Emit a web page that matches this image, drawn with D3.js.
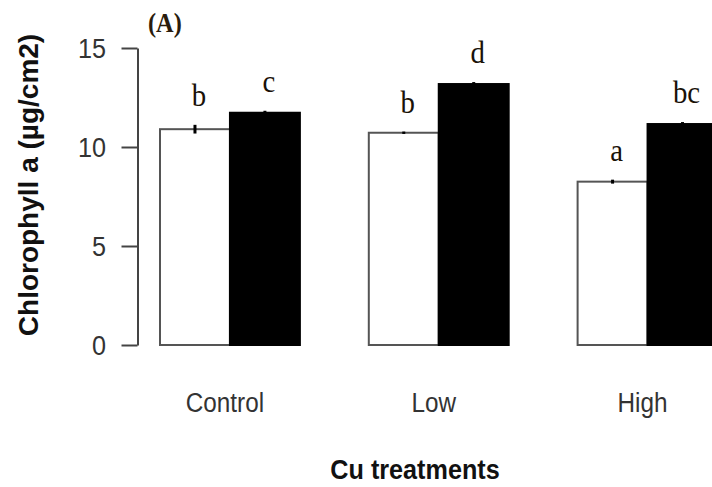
<!DOCTYPE html>
<html>
<head>
<meta charset="utf-8">
<script src="https://cdn.jsdelivr.net/npm/d3@7"></script>
<style>
  body { margin: 0; background: #fff; }
  svg { display: block; }
</style>
</head>
<body>
<svg id="chart" width="712" height="487"></svg>
<script>
// chlorophyll a per treatment, two series (white / black bars)
var categories = ["Control", "Low", "High"];
var seriesKeys = ["white", "black"];
var whiteValues = [10.9, 10.72, 8.25];
var blackValues = [11.73, 13.18, 11.16];
var whiteErrors = [0.22, 0.06, 0.1];
var blackErrors = [0.1, 0.1, 0.1];
var whiteLetters = ["b", "b", "a"];
var blackLetters = ["c", "d", "bc"];
var yTicks = [0, 5, 10, 15];

var svg = d3.select("#chart");
var squeeze = 0.9; // text in the picture looks slightly narrow

var y = d3.scaleLinear().domain([0, 15]).range([345, 48]);

var x0 = d3.scaleBand()
    .domain(categories)
    .range([160, 717.5])
    .paddingInner(0.33)
    .paddingOuter(0);

var x1 = d3.scaleBand()
    .domain(seriesKeys)
    .range([0, x0.bandwidth()])
    .padding(0);

var rows = categories.map(function (c, i) {
    return {
        cat: c,
        bars: [
            {key: "white", value: whiteValues[i], err: whiteErrors[i], letter: whiteLetters[i]},
            {key: "black", value: blackValues[i], err: blackErrors[i], letter: blackLetters[i]}
        ]
    };
});

function squeezedText(sel, px, py) {
    return sel.attr("transform", "translate(" + px + "," + py + ") scale(" + squeeze + ",1)");
}

// y axis
var yAxis = svg.append("g")
    .attr("transform", "translate(137.5,0)")
    .call(d3.axisLeft(y).tickValues(yTicks).tickSize(16).tickSizeOuter(0).tickFormat(""));
yAxis.select(".domain").attr("stroke", "#444").attr("stroke-width", 2);
yAxis.selectAll(".tick line").attr("stroke", "#444").attr("stroke-width", 2);

svg.append("g").selectAll("text")
    .data(yTicks)
    .enter().append("text")
    .each(function (d) {
        squeezedText(d3.select(this), 106, y(d) + 10);
    })
    .attr("text-anchor", "end")
    .attr("font-family", "Liberation Sans, Arial, sans-serif")
    .attr("font-size", 28)
    .attr("fill", "#333")
    .text(function (d) { return d; });

// bars
var group = svg.append("g").selectAll("g")
    .data(rows)
    .enter().append("g")
    .attr("transform", function (d) { return "translate(" + x0(d.cat) + ",0)"; });

group.selectAll("rect")
    .data(function (d) { return d.bars; })
    .enter().append("rect")
    .attr("x", function (d) { return x1(d.key); })
    .attr("y", function (d) { return y(d.value); })
    .attr("width", x1.bandwidth())
    .attr("height", function (d) { return y(0) - y(d.value); })
    .attr("fill", function (d) { return d.key == "white" ? "#fff" : "#000"; })
    .attr("stroke", function (d) { return d.key == "white" ? "#555" : "#000"; })
    .attr("stroke-width", 2);

// error bars
group.selectAll("line.err")
    .data(function (d) { return d.bars; })
    .enter().append("line")
    .attr("class", "err")
    .attr("x1", function (d) { return x1(d.key) + x1.bandwidth() / 2; })
    .attr("x2", function (d) { return x1(d.key) + x1.bandwidth() / 2; })
    .attr("y1", function (d) { return y(d.value - d.err); })
    .attr("y2", function (d) { return y(d.value + d.err); })
    .attr("stroke", "#000")
    .attr("stroke-width", 3);

// significance letters
group.selectAll("text.letter")
    .data(function (d) { return d.bars; })
    .enter().append("text")
    .attr("class", "letter")
    .each(function (d) {
        squeezedText(d3.select(this), x1(d.key) + x1.bandwidth() / 2 + 4, y(d.value + d.err) - 19);
    })
    .attr("text-anchor", "middle")
    .attr("font-family", "Liberation Serif, Times New Roman, serif")
    .attr("font-size", 32)
    .attr("fill", "#1a1208")
    .text(function (d) { return d.letter; });

// category labels
svg.append("g").selectAll("text")
    .data(categories)
    .enter().append("text")
    .each(function (d) {
        squeezedText(d3.select(this), x0(d) + x0.bandwidth() / 2 - 5, 412);
    })
    .attr("text-anchor", "middle")
    .attr("font-family", "Liberation Sans, Arial, sans-serif")
    .attr("font-size", 27)
    .attr("fill", "#333")
    .text(function (d) { return d; });

// axis titles
squeezedText(svg.append("text"), 415, 479)
    .attr("text-anchor", "middle")
    .attr("font-family", "Liberation Sans, Arial, sans-serif")
    .attr("font-weight", "bold")
    .attr("font-size", 28)
    .attr("fill", "#111")
    .text("Cu treatments");

svg.append("text")
    .attr("transform", "translate(38,185) rotate(-90)")
    .attr("text-anchor", "middle")
    .attr("font-family", "Liberation Sans, Arial, sans-serif")
    .attr("font-weight", "bold")
    .attr("font-size", 28)
    .attr("fill", "#111")
    .text("Chlorophyll a (µg/cm2)");

squeezedText(svg.append("text"), 148, 32)
    .attr("font-family", "Liberation Serif, Times New Roman, serif")
    .attr("font-weight", "bold")
    .attr("font-size", 27)
    .attr("fill", "#2a1c0c")
    .text("(A)");
</script>
</body>
</html>
